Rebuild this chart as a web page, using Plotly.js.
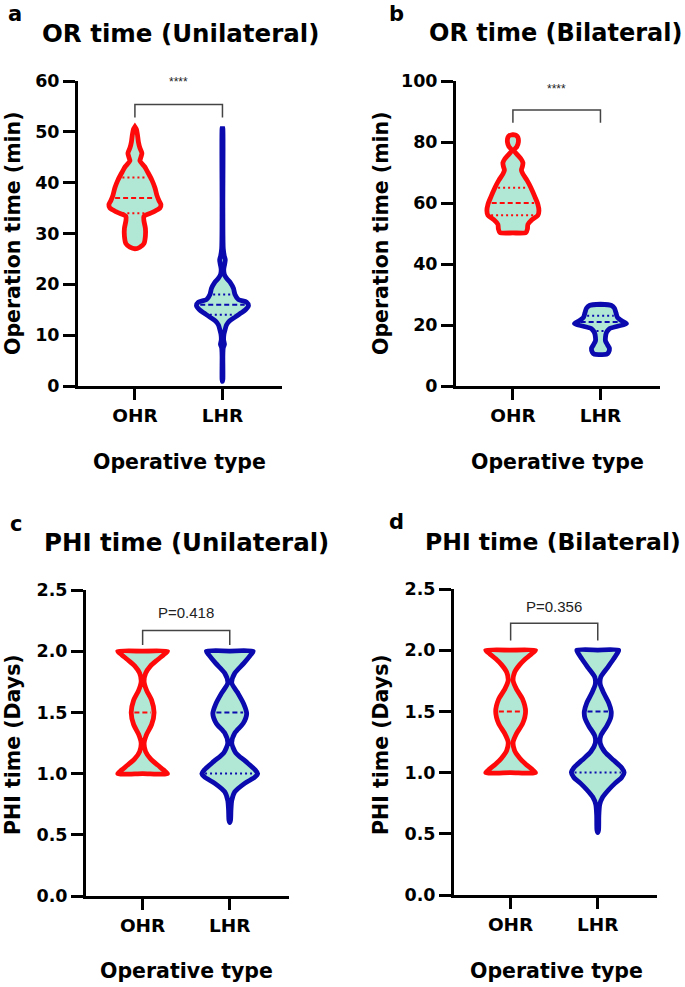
<!DOCTYPE html>
<html>
<head>
<meta charset="utf-8">
<script src="https://cdn.plot.ly/plotly-3.0.1.min.js"></script>
<style>html,body{margin:0;padding:0;background:#fff;}#chart{width:685px;height:987px;}</style>
</head>
<body>
<div id="chart"></div>
<script>
// ---------------- DATA ----------------
const categories = ['OHR', 'LHR'];
const panelLetters = ['a', 'b', 'c', 'd'];
const panelTitles = ['OR time (Unilateral)', 'OR time (Bilateral)', 'PHI time (Unilateral)', 'PHI time (Bilateral)'];
const yTitles = ['Operation time (min)', 'Operation time (min)', 'PHI time (Days)', 'PHI time (Days)'];
const xTitle = 'Operative type';
const yRanges = [[0, 60], [0, 100], [0, 2.5], [0, 2.5]];
const yDticks = [10, 20, 0.5, 0.5];
const sigLabels = ['****', '****', 'P=0.418', 'P=0.356'];
const sigLabelY = [59.8, 97.4, 2.32, 2.36];
const bracketTop = [55.4, 90.5, 2.17, 2.22];
const bracketBottom = [52.8, 86.3, 2.05, 2.08];

// violin density profiles: levels (value) and half-width (relative density, px-like units)
// Panel a – OR time unilateral
const orUniOHR_y = [27.0, 27.3, 28.0, 29.5, 31.0, 32.5, 33.4, 34.2, 35.0, 35.7, 36.5, 37.5, 39.0, 40.5, 42.0, 43.2, 44.3, 45.0, 45.8, 46.8, 48.0, 49.5, 50.5, 51.0];
const orUniOHR_w = [0, 5, 9, 10.5, 10.5, 9, 9, 18, 25, 26, 24, 22, 20, 17, 13, 9.5, 5, 6, 7, 5, 3.5, 2.5, 1.5, 0];
const orUniLHR_y = [0.9, 1.3, 6.0, 7.5, 8.2, 9.0, 10.2, 11.0, 12.0, 12.8, 13.6, 14.3, 15.0, 15.8, 16.5, 17.0, 18.0, 19.2, 20.3, 21.2, 22.0, 23.0, 24.0, 24.8, 25.6, 27.0, 35.0, 50.6, 51.0];
const orUniLHR_w = [0, 0.4, 0.4, 0.8, 2.0, 1.2, 1.5, 2.5, 4, 7, 13, 18, 23, 26, 24, 16, 12.5, 11, 8, 4, 1.8, 1.3, 2.2, 2.8, 1.8, 0.8, 0.4, 0.4, 0];
const orUniQ_OHR = [34, 37, 41];
const orUniQ_LHR = [14, 16, 18];

// Panel b – OR time bilateral
const orBiOHR_y = [50.2, 50.3, 51.5, 53.0, 54.5, 56.0, 57.5, 59.5, 62.0, 65.0, 67.5, 69.5, 70.8, 72.0, 73.2, 74.5, 76.0, 77.3, 78.5, 80.0, 81.5, 82.1, 82.4];
const orBiOHR_w = [0, 13, 14.5, 15, 19, 25, 26, 25, 22, 18, 14, 10, 8.5, 9.5, 10, 8, 4, 1, 4, 5.5, 5, 3.5, 0];
const orBiLHR_y = [10.3, 10.4, 11.0, 12.3, 13.5, 14.8, 16.0, 17.5, 18.8, 19.6, 20.4, 21.2, 22.5, 24.0, 25.5, 26.4, 26.8];
const orBiLHR_w = [0, 6, 8, 9, 7, 5, 5, 6, 9, 17, 26, 22, 17, 15.5, 14, 11, 0];
const orBiQ_OHR = [56, 60, 65];
const orBiQ_LHR = [18, 21, 23];

// Panel c – PHI time unilateral
const phiUniOHR_y = [1.0, 1.0, 1.03, 1.07, 1.12, 1.18, 1.25, 1.32, 1.40, 1.50, 1.60, 1.68, 1.75, 1.82, 1.88, 1.93, 1.97, 2.0, 2.0];
const phiUniOHR_w = [0, 25, 21, 15, 8, 3, 1.5, 4, 9, 11.5, 9, 4, 1.5, 3, 8, 15, 21, 25, 0];
const phiUniLHR_y = [0.6, 0.62, 0.70, 0.78, 0.85, 0.92, 0.97, 1.0, 1.03, 1.10, 1.17, 1.25, 1.33, 1.41, 1.49, 1.57, 1.66, 1.74, 1.82, 1.90, 1.97, 2.0, 2.0];
const phiUniLHR_w = [0, 0.8, 1.2, 2, 5, 15, 25, 28, 25.5, 16, 6, 2, 5, 13.5, 17, 14, 8, 2, 5, 14, 21, 23.5, 0];
const phiUniQ_OHR = [1.0, 1.5, 2.0];
const phiUniQ_LHR = [1.0, 1.5, 2.0];

// Panel d – PHI time bilateral
const phiBiOHR_y = [1.0, 1.0, 1.03, 1.07, 1.12, 1.18, 1.25, 1.32, 1.40, 1.50, 1.60, 1.68, 1.75, 1.82, 1.88, 1.93, 1.97, 2.0, 2.0];
const phiBiOHR_w = [0, 25, 21, 15, 9, 4, 2.5, 6, 12, 15, 12, 6, 2.5, 4, 9, 15, 21, 25, 0];
const phiBiLHR_y = [0.51, 0.53, 0.65, 0.74, 0.80, 0.86, 0.91, 0.96, 1.0, 1.04, 1.10, 1.17, 1.24, 1.30, 1.38, 1.45, 1.50, 1.57, 1.65, 1.72, 1.78, 1.86, 1.93, 1.98, 2.0, 2.0];
const phiBiLHR_w = [0, 0.8, 1.1, 2, 5, 11, 17, 24, 26.5, 24, 16, 7, 2.5, 3, 9, 13, 13.5, 11, 6, 2.5, 3, 10, 16, 20, 21, 0];
const phiBiQ_OHR = [1.0, 1.5, 2.0];
const phiBiQ_LHR = [1.0, 1.5, 2.0];

// ---------------- STYLE ----------------
const FONT = 'DejaVu Sans';
const RED = '#ff0a0a';
const BLUE = '#0a0aae';
const FILL = '#b0e8d5';
const WSCALE = 1 / 87.5;       // density units -> category units
const STROKE = 4.8;
const INSET = 3.2 * WSCALE;    // quartile lines stop inside the stroke

const panels = [
  {xa: 'x',  ya: 'y',  viol: [[orUniOHR_y, orUniOHR_w, orUniQ_OHR], [orUniLHR_y, orUniLHR_w, orUniQ_LHR]]},
  {xa: 'x2', ya: 'y2', viol: [[orBiOHR_y, orBiOHR_w, orBiQ_OHR], [orBiLHR_y, orBiLHR_w, orBiQ_LHR]]},
  {xa: 'x3', ya: 'y3', viol: [[phiUniOHR_y, phiUniOHR_w, phiUniQ_OHR], [phiUniLHR_y, phiUniLHR_w, phiUniQ_LHR]]},
  {xa: 'x4', ya: 'y4', viol: [[phiBiOHR_y, phiBiOHR_w, phiBiQ_OHR], [phiBiLHR_y, phiBiLHR_w, phiBiQ_LHR]]}
];
const colors = [RED, BLUE];

function widthAt(ys, ws, v) {
  let best = 0;
  for (let i = 0; i < ys.length - 1; i++) {
    const a = ys[i], b = ys[i + 1];
    if (v >= a && v <= b && b > a) {
      const t = (v - a) / (b - a);
      best = Math.max(best, ws[i] + t * (ws[i + 1] - ws[i]));
    }
  }
  return best;
}

const traces = [];
panels.forEach((p) => {
  p.viol.forEach((vd, ci) => {
    const ys = vd[0], ws = vd[1], q = vd[2];
    const xs = [], yy = [];
    for (let i = 0; i < ys.length; i++) { xs.push(ci + ws[i] * WSCALE); yy.push(ys[i]); }
    for (let i = ys.length - 1; i >= 0; i--) { xs.push(ci - ws[i] * WSCALE); yy.push(ys[i]); }
    // fill
    traces.push({type: 'scatter', mode: 'lines', x: xs, y: yy, xaxis: p.xa, yaxis: p.ya,
      fill: 'toself', fillcolor: FILL, line: {width: 0, shape: 'spline', smoothing: 0.7, color: FILL},
      hoverinfo: 'skip', showlegend: false});
    // quartile lines
    q.forEach((qv, qi) => {
      const hw = Math.max(widthAt(ys, ws, qv) * WSCALE - INSET, 0);
      traces.push({type: 'scatter', mode: 'lines', x: [ci - hw, ci + hw], y: [qv, qv], xaxis: p.xa, yaxis: p.ya,
        line: {color: colors[ci], width: 2, dash: qi === 1 ? '5px,3px' : '2px,3px'},
        hoverinfo: 'skip', showlegend: false});
    });
    // outline
    traces.push({type: 'scatter', mode: 'lines', x: xs, y: yy, xaxis: p.xa, yaxis: p.ya,
      line: {width: STROKE, shape: 'spline', smoothing: 0.7, color: colors[ci]},
      hoverinfo: 'skip', showlegend: false});
  });
});

// ---------------- LAYOUT ----------------
const W = 685, H = 987;
const boxes = [ // plot area pixel boxes [left, right, top, bottom]
  [78, 282, 81, 386],
  [456, 660, 81, 386],
  [86, 289, 590, 896],
  [454, 657, 589, 895]
];
const layout = {
  width: W, height: H, margin: {l: 0, r: 0, t: 0, b: 0},
  paper_bgcolor: '#fff', plot_bgcolor: 'rgba(0,0,0,0)', showlegend: false,
  shapes: [], annotations: []
};
const px = (x) => x / W, py = (y) => 1 - y / H;

boxes.forEach((b, i) => {
  const sfx = i === 0 ? '' : String(i + 1);
  layout['xaxis' + sfx] = {
    domain: [px(b[0]), px(b[1])], anchor: 'y' + sfx, range: [-0.65, 1.68],
    tickvals: [0, 1], ticktext: categories, showline: true, linewidth: 3, linecolor: '#000',
    ticks: 'outside', ticklen: 11, tickwidth: 3, tickcolor: '#000', showgrid: false, zeroline: false,
    tickfont: {family: FONT, size: 18.5, color: '#000', weight: 'bold'}, fixedrange: true
  };
  layout['yaxis' + sfx] = {
    domain: [py(b[3]), py(b[2])], anchor: 'x' + sfx, range: yRanges[i], dtick: yDticks[i], tick0: 0,
    tickformat: i >= 2 ? '.1f' : 'd',
    showline: true, linewidth: 3, linecolor: '#000', ticks: 'outside', ticklen: 12, tickwidth: 3, tickcolor: '#000',
    showgrid: false, zeroline: false, tickfont: {family: FONT, size: 17.5, color: '#000', weight: 'bold'}, fixedrange: true
  };
  const xr = 'x' + sfx, yr = 'y' + sfx;
  // significance bracket
  layout.shapes.push({type: 'path', xref: xr, yref: yr,
    path: 'M 0,' + bracketBottom[i] + ' L 0,' + bracketTop[i] + ' L 1,' + bracketTop[i] + ' L 1,' + bracketBottom[i],
    line: {color: '#444', width: 1.5}});
  layout.annotations.push({xref: xr, yref: yr, x: 0.5, y: sigLabelY[i], text: sigLabels[i], showarrow: false,
    xanchor: 'center', yanchor: 'middle',
    font: {family: 'Liberation Sans', size: i < 2 ? 12 : 15, color: '#222'}});
});

const titlePos = [[180, 33], [555, 33], [187, 542], [553, 542]];
const titleSize = [24.5, 24, 24.5, 23.5];
const letterPos = [[15, 14], [396, 14], [16, 524], [396, 522]];
const yTitlePos = [[13, 233], [381, 233], [13, 745], [381, 745]];
const xTitlePos = [[179, 462], [557, 462], [187, 971], [556, 971]];
for (let i = 0; i < 4; i++) {
  layout.annotations.push({xref: 'paper', yref: 'paper', x: px(titlePos[i][0]), y: py(titlePos[i][1]),
    text: panelTitles[i], showarrow: false, xanchor: 'center', yanchor: 'middle',
    font: {family: FONT, size: titleSize[i], color: '#000', weight: 'bold'}});
  layout.annotations.push({xref: 'paper', yref: 'paper', x: px(letterPos[i][0]), y: py(letterPos[i][1]),
    text: panelLetters[i], showarrow: false, xanchor: 'center', yanchor: 'middle',
    font: {family: FONT, size: 21, color: '#000', weight: 'bold'}});
  layout.annotations.push({xref: 'paper', yref: 'paper', x: px(yTitlePos[i][0]), y: py(yTitlePos[i][1]),
    text: yTitles[i], showarrow: false, xanchor: 'center', yanchor: 'middle', textangle: -90,
    font: {family: FONT, size: 20.5, color: '#000', weight: 'bold'}});
  layout.annotations.push({xref: 'paper', yref: 'paper', x: px(xTitlePos[i][0]), y: py(xTitlePos[i][1]),
    text: xTitle, showarrow: false, xanchor: 'center', yanchor: 'middle',
    font: {family: FONT, size: 20.5, color: '#000', weight: 'bold'}});
}

Plotly.newPlot('chart', traces, layout, {displayModeBar: false, staticPlot: true});
</script>
</body>
</html>
